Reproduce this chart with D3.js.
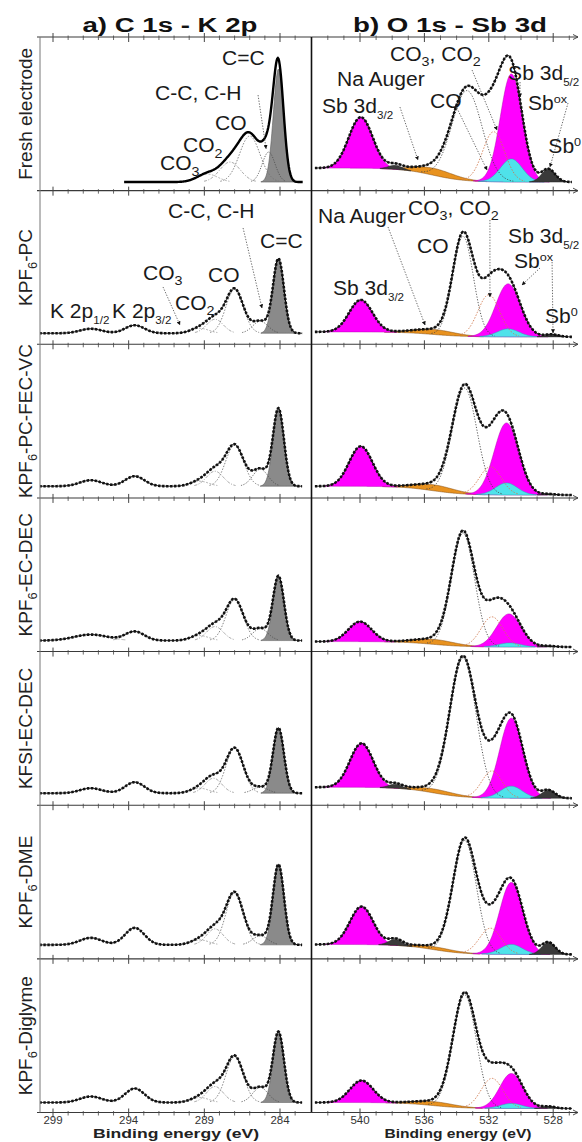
<!DOCTYPE html>
<html><head><meta charset="utf-8">
<script src="https://cdn.jsdelivr.net/npm/d3@7"></script>
<style>
html,body{margin:0;padding:0;background:#fff;overflow:hidden}
svg{display:block}
text{font-family:"Liberation Sans",Arial,Helvetica,sans-serif}
</style>
</head><body>
<svg id="c" width="582" height="1142"></svg>
<script>
// ---------------- DATA ----------------
const panelNames = [
  [["Fresh electrode","n"]],
  [["KPF","n"],["6","sub"],["-PC","n"]],
  [["KPF","n"],["6","sub"],["-PC-FEC-VC","n"]],
  [["KPF","n"],["6","sub"],["-EC-DEC","n"]],
  [["KFSI-EC-DEC","n"]],
  [["KPF","n"],["6","sub"],["-DME","n"]],
  [["KPF","n"],["6","sub"],["-Diglyme","n"]]
];
const leftTicksMajor = [299, 294, 289, 284];
const rightTicksMajor = [540, 536, 532, 528];

// C 1s - K 2p fitted components (per panel: centre eV, FWHM eV, height)
const leftComponents = ["C=C", "C-C, C-H", "CO", "CO2", "CO3", "K 2p3/2", "K 2p1/2"];
const leftCenters = [
  [284.1, 284.75, 286.0, 287.3, 288.8, 293.6, 296.5],
  [284.1, 285.3, 287.0, 288.3, 289.3, 293.6, 296.5],
  [284.1, 285.3, 287.0, 288.3, 289.3, 293.6, 296.5],
  [284.1, 285.3, 287.0, 288.3, 289.3, 293.6, 296.5],
  [284.1, 285.3, 287.0, 288.4, 289.3, 293.6, 296.5],
  [284.1, 285.3, 287.0, 288.3, 289.3, 293.6, 296.5],
  [284.1, 285.3, 287.0, 288.3, 289.3, 293.6, 296.5]
];
const leftFwhm = [
  [0.8, 1.0, 1.6, 1.6, 1.6, 1.5, 1.7],
  [0.85, 1.2, 1.35, 1.3, 1.4, 1.5, 1.7],
  [0.85, 1.2, 1.4, 1.3, 1.4, 1.5, 1.7],
  [0.85, 1.2, 1.35, 1.3, 1.4, 1.5, 2.6],
  [0.85, 1.2, 1.35, 1.3, 1.4, 1.5, 1.7],
  [0.85, 1.2, 1.35, 1.3, 1.4, 1.5, 1.7],
  [0.85, 1.2, 1.35, 1.3, 1.4, 1.5, 1.7]
];
const leftHeights = [
  [113, 30, 46, 20, 8, 0, 0],
  [74, 12, 44, 14, 5, 8, 4.5],
  [77, 17, 41, 15, 5, 10, 6],
  [64, 12, 41, 14, 5, 9, 6],
  [65, 6, 45, 15, 5, 11, 5],
  [80, 9, 52, 16, 5, 17, 7],
  [70, 15, 46, 16, 5, 14, 6]
];
const leftBaseline = [8.6, 11, 11.7, 11, 12, 14, 10];
const leftStart = [294.3, 299.9, 299.9, 299.9, 299.9, 299.9, 299.9];
const leftEnd = 282.5;

// O 1s - Sb 3d fitted components
const rightComponents = ["Sb 3d3/2", "Sb0 3d3/2", "Na Auger", "CO", "CO3, CO2", "Sb 3d5/2", "Sbox", "Sb0"];
const rightCenters = [
  [539.95, 537.8, 535.4, 533.35, 531.7, 530.6, 530.6, 528.3],
  [539.95, 537.8, 535.4, 533.6, 532.0, 530.8, 530.8, 528.1],
  [539.95, 537.8, 535.4, 533.5, 531.9, 530.9, 530.9, 528.3],
  [540.0, 537.8, 535.4, 533.6, 531.8, 530.75, 530.7, 528.3],
  [539.9, 537.8, 535.4, 533.6, 531.8, 530.6, 530.6, 528.3],
  [539.9, 537.8, 535.4, 533.5, 531.9, 530.6, 530.6, 528.3],
  [539.9, 537.8, 535.4, 533.5, 531.8, 530.6, 530.6, 528.3]
];
const rightFwhm = [
  [1.75, 1.0, 3.0, 2.2, 1.6, 1.6, 1.6, 1.0],
  [1.7, 1.0, 3.0, 1.5, 1.6, 1.8, 1.6, 1.0],
  [1.7, 1.0, 3.0, 1.8, 1.6, 1.8, 1.6, 1.0],
  [1.7, 1.0, 3.0, 1.68, 1.6, 1.8, 1.6, 1.0],
  [1.7, 1.0, 3.0, 1.9, 1.5, 1.7, 1.6, 1.0],
  [1.7, 1.0, 3.0, 1.7, 1.6, 1.7, 1.6, 1.0],
  [1.7, 1.0, 3.0, 1.7, 1.6, 1.7, 1.6, 1.0]
];
const rightHeights = [
  [51, 4, 7, 90, 50, 108, 23, 13],
  [32, 0, 5, 100, 42, 53, 8, 2.5],
  [40, 0, 6, 106, 28, 72, 12, 1],
  [20, 0, 5, 113, 30, 33, 4, 1],
  [44, 4, 4, 139, 27, 80, 12, 8],
  [38, 6, 3, 113, 26, 72, 10, 12],
  [22, 0, 4, 113, 30, 35, 5, 2]
];
const rightBgHigh = [22.6, 12.4, 11.7, 10, 18, 14.4, 10];
const rightBgLow = [8.6, 7.4, 2.9, 4.6, 7, 4.4, 4];
const rightBgStep = [535.5, 1.0];
const rightStart = 542.8, rightEnd = 526.8;

// annotations: [panel, energy, intensity, parts]
const leftLabels = [
  [0, 287.83, 125.6, [["C=C","n"]]],
  [0, 292.26, 90.6, [["C-C, C-H","n"]]],
  [0, 288.29, 60.6, [["CO","n"]]],
  [0, 290.41, 38.6, [["CO","n"],["2","sub"]]],
  [0, 291.93, 20.6, [["CO","n"],["3","sub"]]],
  [1, 291.40, 126.3, [["C-C, C-H","n"]]],
  [1, 285.32, 96.3, [["C=C","n"]]],
  [1, 293.05, 64.3, [["CO","n"],["3","sub"]]],
  [1, 288.76, 62.3, [["CO","n"]]],
  [1, 290.94, 34.3, [["CO","n"],["2","sub"]]],
  [1, 299.2, 26.3, [["K 2p","n"],["1/2","ssub"]]],
  [1, 295.1, 26.3, [["K 2p","n"],["3/2","ssub"]]]
];
const rightLabels = [
  [0, 538.14, 130.0, [["CO","n"],["3","sub"],[", CO","n"],["2","sub"]]],
  [0, 541.43, 104.6, [["Na Auger","n"]]],
  [0, 542.36, 77.6, [["Sb 3d","n"],["3/2","ssub"]]],
  [0, 535.65, 82.6, [["CO","n"]]],
  [0, 530.8, 110.6, [["Sb 3d","n"],["5/2","ssub"]]],
  [0, 529.57, 80.6, [["Sb","n"],["ox","sup"]]],
  [0, 528.3, 37.6, [["Sb","n"],["0","sup"]]],
  [1, 542.61, 121.3, [["Na Auger","n"]]],
  [1, 537.02, 129.3, [["CO","n"],["3","sub"],[", CO","n"],["2","sub"]]],
  [1, 536.46, 91.3, [["CO","n"]]],
  [1, 530.8, 101.3, [["Sb 3d","n"],["5/2","ssub"]]],
  [1, 530.43, 76.3, [["Sb","n"],["ox","sup"]]],
  [1, 541.68, 49.3, [["Sb 3d","n"],["3/2","ssub"]]],
  [1, 528.51, 21.3, [["Sb","n"],["0","sup"]]]
];
// arrows: [panel, side, E1, I1, E2, I2]
const arrows = [
  [0, "L", 285.45, 95.6, 284.92, 42],
  [1, "L", 291.73, 57.3, 290.61, 19.3],
  [1, "L", 286.44, 116.3, 285.19, 36.3],
  [0, "R", 537.52, 83.6, 536.40, 30.6],
  [0, "R", 533.04, 120.6, 531.49, 60.6],
  [0, "R", 533.98, 82.6, 532.11, 20.6],
  [0, "R", 530.06, 108.6, 530.06, 93.6],
  [0, "R", 527.08, 87.6, 528.2, 23.6],
  [1, "R", 538.26, 117.3, 535.96, 19.3],
  [1, "R", 531.93, 124.3, 531.93, 47.3],
  [1, "R", 528.82, 76.3, 529.94, 59.3],
  [1, "R", 528.07, 82.3, 528.01, 11.3]
];

// ---------------- LAYOUT ----------------
const svg = d3.select("#c");
const plotTop = 37, plotBottom = 1112.5;
const leftX0 = 40, divX = 311.5, rightX1 = 578;
const xL = d3.scaleLinear().domain([299, 284]).range([53, 280]);
const xR = d3.scaleLinear().domain([540, 528]).range([360, 553.2]);
const band = d3.scaleBand().domain(d3.range(7)).range([plotTop, plotBottom]);
const ph = band.bandwidth();
const yS = i => d3.scaleLinear().domain([0, ph]).range([band(i) + ph, band(i)]);
const gauss = (E, c, h, w) => h * Math.exp(-4 * Math.LN2 * (E - c) * (E - c) / (w * w));
const bgRight = (i, E) => rightBgLow[i] + (rightBgHigh[i] - rightBgLow[i]) / (1 + Math.exp(-(E - rightBgStep[0]) / rightBgStep[1]));

const defs = svg.append("defs");
defs.append("clipPath").attr("id","clipL").append("rect")
  .attr("x", leftX0).attr("y", plotTop).attr("width", divX - leftX0).attr("height", plotBottom - plotTop);
defs.append("clipPath").attr("id","clipR").append("rect")
  .attr("x", divX).attr("y", plotTop).attr("width", rightX1 - divX + 4).attr("height", plotBottom - plotTop);
defs.append("marker").attr("id","ah").attr("viewBox","0 0 6 6").attr("refX",5.5).attr("refY",3)
  .attr("markerWidth",5).attr("markerHeight",5).attr("orient","auto")
  .append("path").attr("d","M0,0L6,3L0,6z").attr("fill","#111");

function richText(g, x, y, parts, size, anchor, fill) {
  const t = g.append("text").attr("x", x).attr("y", y).attr("font-size", size)
    .attr("text-anchor", anchor || "start").attr("fill", fill || "#1a1a1a");
  let shift = 0;
  parts.forEach(([s, type]) => {
    const sp = t.append("tspan").text(s);
    let target = 0, fs = size;
    if (type === "sub") { target = size * 0.28; fs = size * 0.68; }
    else if (type === "ssub") { target = size * 0.3; fs = size * 0.55; }
    else if (type === "sup") { target = -size * 0.38; fs = size * 0.6; }
    sp.attr("font-size", fs).attr("dy", target - shift);
    shift = target;
  });
  return t;
}

const gLeft = svg.append("g").attr("clip-path","url(#clipL)");
const gRight = svg.append("g").attr("clip-path","url(#clipR)");

// ---------------- LEFT: C 1s - K 2p ----------------
const leftStyles = [null,
  {stroke:"#555", dash:"1.2,1.4", w:0.9},
  {stroke:"#777", dash:"1.5,1.5", w:0.9},
  {stroke:"#888", dash:"3,1.5,1,1.5", w:0.8},
  {stroke:"#999", dash:"2,1.5", w:0.8},
  {stroke:"#888", dash:"4,2", w:0.8},
  {stroke:"#999", dash:"4,2", w:0.8}
];
for (let i = 0; i < 7; i++) {
  const y = yS(i);
  const base = leftBaseline[i];
  const Es = d3.range(leftStart[i], leftEnd, -0.04);
  const comps = leftComponents.map((n, k) => Es.map(E => [E, gauss(E, leftCenters[i][k], leftHeights[i][k], leftFwhm[i][k])]));
  const env = Es.map((E, j) => [E, base + d3.sum(comps, c => c[j][1])]);
  gLeft.append("path").datum(comps[0])
    .attr("d", d3.area().defined(d => d[1] > 0.3).x(d => xL(d[0])).y0(y(base)).y1(d => y(base + d[1])))
    .attr("fill", "#8a8a8a").attr("stroke", "#5a5a5a").attr("stroke-width", 0.6);
  for (let k = 1; k < leftComponents.length; k++) {
    if (leftHeights[i][k] <= 0) continue;
    const st = leftStyles[k];
    gLeft.append("path").datum(comps[k])
      .attr("d", d3.line().defined(d => d[1] > 0.7).x(d => xL(d[0])).y(d => y(base + d[1])))
      .attr("fill", "none").attr("stroke", st.stroke).attr("stroke-width", st.w).attr("stroke-dasharray", st.dash);
  }
  const envLine = d3.line().x(d => xL(d[0])).y(d => y(d[1]));
  if (i === 0) {
    gLeft.append("path").datum(env).attr("d", envLine).attr("fill","none").attr("stroke","#000").attr("stroke-width",2.4);
  } else {
    gLeft.append("path").datum(env).attr("d", envLine).attr("fill","none").attr("stroke","#000").attr("stroke-width",1);
    gLeft.append("path").datum(env).attr("d", envLine).attr("fill","none").attr("stroke","#111")
      .attr("stroke-width",2.6).attr("stroke-dasharray","2.4,1.6");
  }
}

// ---------------- RIGHT: O 1s - Sb 3d ----------------
const fillStyle = {
  0:{fill:"#ff00ff", stroke:"#b400b4"},
  1:{fill:"#3a3a3a", stroke:"#222"},
  2:{fill:"#e8921f", stroke:"#7a4208"},
  5:{fill:"#ff00ff", stroke:"#b400b4"},
  6:{fill:"#4fe2ea", stroke:"#2aa8b0"},
  7:{fill:"#3a3a3a", stroke:"#222"}
};
const fillOrder = [2, 0, 1, 5, 6, 7];
for (let i = 0; i < 7; i++) {
  const y = yS(i);
  const Es = d3.range(rightStart, rightEnd, -0.04);
  const bgs = Es.map(E => bgRight(i, E));
  const comps = rightComponents.map((n, k) => Es.map((E, j) => [E, gauss(E, rightCenters[i][k], rightHeights[i][k], rightFwhm[i][k]), bgs[j]]));
  const env = Es.map((E, j) => [E, bgs[j] + d3.sum(comps.filter((c, k) => k !== 6), c => c[j][1])]);
  fillOrder.forEach(k => {
    if (rightHeights[i][k] <= 0) return;
    const st = fillStyle[k];
    gRight.append("path").datum(comps[k])
      .attr("d", d3.area().defined(d => d[1] > 0.25).x(d => xR(d[0])).y0(d => y(d[2])).y1(d => y(d[2] + d[1])))
      .attr("fill", st.fill).attr("stroke", st.stroke).attr("stroke-width", 0.5);
  });
  gRight.append("path").datum(comps[3])
    .attr("d", d3.line().defined(d => d[1] > 0.8).x(d => xR(d[0])).y(d => y(d[2] + d[1])))
    .attr("fill","none").attr("stroke","#444").attr("stroke-width",0.9).attr("stroke-dasharray","1.2,1.6");
  gRight.append("path").datum(comps[4])
    .attr("d", d3.line().defined(d => d[1] > 0.8).x(d => xR(d[0])).y(d => y(d[2] + d[1])))
    .attr("fill","none").attr("stroke","#d07a50").attr("stroke-width",0.9).attr("stroke-dasharray","1.5,1.5");
  const envLine = d3.line().x(d => xR(d[0])).y(d => y(d[1]));
  gRight.append("path").datum(env).attr("d", envLine).attr("fill","none").attr("stroke","#000").attr("stroke-width",1);
  gRight.append("path").datum(env).attr("d", envLine).attr("fill","none").attr("stroke","#111")
    .attr("stroke-width",2.6).attr("stroke-dasharray","2.4,1.6");
}

// ---------------- FRAME & TICKS ----------------
const frame = svg.append("g");
const leftMinor = d3.range(283, 300), rightMinor = d3.range(527, 543);
for (let j = 0; j <= 7; j++) {
  const yy = plotTop + j * ph;
  frame.append("line").attr("x1", 37).attr("x2", divX).attr("y1", yy).attr("y2", yy)
    .attr("stroke", "#3a3a3a").attr("stroke-width", 1.1);
  frame.append("line").attr("x1", divX).attr("x2", rightX1).attr("y1", yy).attr("y2", yy)
    .attr("stroke", "#3a3a3a").attr("stroke-width", 1.1);
  frame.append("path").attr("d", `M${rightX1-5},${yy-2.5}L${rightX1},${yy}L${rightX1-5},${yy+2.5}`)
    .attr("fill","none").attr("stroke","#3a3a3a").attr("stroke-width",0.9);
  leftMinor.forEach(v => {
    const maj = leftTicksMajor.includes(v);
    frame.append("line").attr("x1", xL(v)).attr("x2", xL(v))
      .attr("y1", yy - (maj ? 4 : 1.5)).attr("y2", yy + (maj ? 5 : 3))
      .attr("stroke", "#444").attr("stroke-width", maj ? 1 : 0.8);
  });
  rightMinor.forEach(v => {
    const maj = rightTicksMajor.includes(v);
    frame.append("line").attr("x1", xR(v)).attr("x2", xR(v))
      .attr("y1", yy - (maj ? 4 : 1.5)).attr("y2", yy + (maj ? 5 : 3))
      .attr("stroke", "#444").attr("stroke-width", maj ? 1 : 0.8);
  });
}
frame.append("line").attr("x1", leftX0).attr("x2", leftX0).attr("y1", plotTop).attr("y2", plotBottom)
  .attr("stroke", "#777").attr("stroke-width", 1);
frame.append("line").attr("x1", divX).attr("x2", divX).attr("y1", plotTop).attr("y2", plotBottom)
  .attr("stroke", "#111").attr("stroke-width", 1.6);

// bottom tick labels
leftTicksMajor.forEach(v => {
  svg.append("text").attr("x", xL(v)).attr("y", 1124).attr("text-anchor","middle")
    .attr("font-size", 11.5).attr("fill","#333").text(v);
});
rightTicksMajor.forEach(v => {
  svg.append("text").attr("x", xR(v)).attr("y", 1124).attr("text-anchor","middle")
    .attr("font-size", 11.5).attr("fill","#333").text(v);
});
svg.append("text").attr("x", 176).attr("y", 1138).attr("text-anchor","middle")
  .attr("font-size", 13.5).attr("font-weight","bold").attr("fill","#222")
  .attr("textLength", 166).attr("lengthAdjust","spacingAndGlyphs").text("Binding energy (eV)");
svg.append("text").attr("x", 458).attr("y", 1138).attr("text-anchor","middle")
  .attr("font-size", 13.5).attr("font-weight","bold").attr("fill","#222")
  .attr("textLength", 147).attr("lengthAdjust","spacingAndGlyphs").text("Binding energy (eV)");

// titles
svg.append("text").attr("x", 170).attr("y", 32).attr("text-anchor","middle")
  .attr("font-size", 19.5).attr("font-weight","bold").attr("fill","#111")
  .attr("textLength", 175).attr("lengthAdjust","spacingAndGlyphs").text("a) C 1s - K 2p");
svg.append("text").attr("x", 450).attr("y", 32).attr("text-anchor","middle")
  .attr("font-size", 19.5).attr("font-weight","bold").attr("fill","#111")
  .attr("textLength", 194).attr("lengthAdjust","spacingAndGlyphs").text("b) O 1s - Sb 3d");

// y labels
panelNames.forEach((parts, i) => {
  const g = svg.append("g").attr("transform", `translate(32,${band(i) + ph / 2}) rotate(-90)`);
  richText(g, 0, 0, parts, 19, "middle", "#222");
});

// in-plot labels
function placeLabel(x, y, parts) {
  const g = svg.append("g").attr("transform", `translate(${x},${y}) scale(1.08,1)`);
  richText(g, 0, 0, parts, 19.5, "start", "#1a1a1a");
}
leftLabels.forEach(([p, E, I, parts]) => placeLabel(xL(E), yS(p)(I), parts));
rightLabels.forEach(([p, E, I, parts]) => placeLabel(xR(E), yS(p)(I), parts));

// arrows
arrows.forEach(([p, side, E1, I1, E2, I2]) => {
  const x = side === "L" ? xL : xR;
  const y = yS(p);
  svg.append("line").attr("x1", x(E1)).attr("y1", y(I1)).attr("x2", x(E2)).attr("y2", y(I2))
    .attr("stroke","#444").attr("stroke-width",0.8).attr("stroke-dasharray","1.3,1.5")
    .attr("marker-end","url(#ah)");
});
</script>
</body></html>
